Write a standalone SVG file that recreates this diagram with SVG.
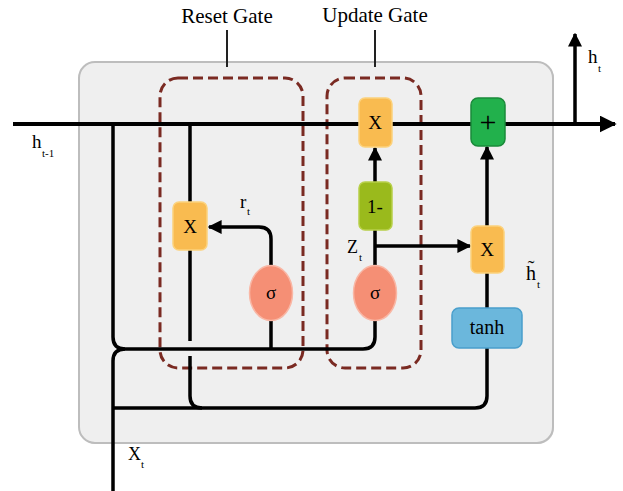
<svg xmlns="http://www.w3.org/2000/svg" width="623" height="491" viewBox="0 0 623 491">
<defs>
<style>
text{font-family:"Liberation Serif","Times New Roman",serif;fill:#000}
.lbl{font-size:21px}
.sym{font-family:"Liberation Serif","Times New Roman",serif;font-size:19px;text-anchor:middle}
.sub{font-size:11px}
.wire{fill:none;stroke:#000;stroke-width:3.5}
.main{fill:none;stroke:#000;stroke-width:4}
.tag{fill:none;stroke:#222;stroke-width:2}
.gate{fill:none;stroke:#7a2a22;stroke-width:3;stroke-dasharray:10 5}
.mul{fill:#f9bb50;stroke:#fcd27c;stroke-width:1.5}
.sig{fill:#f58f75;stroke:#f9b7a5;stroke-width:1.5}
.one{fill:#9aba1c;stroke:#b8d04a;stroke-width:1.5}
.add{fill:#22b14c;stroke:#1a8a3a;stroke-width:1.5}
.tanh{fill:#6bb7dc;stroke:#4a9fcc;stroke-width:1.5}
</style>
<marker id="arr" viewBox="0 0 10 10" refX="9" refY="5" markerWidth="14" markerHeight="14" markerUnits="userSpaceOnUse" orient="auto">
<path d="M0,0 L10,5 L0,10 z" fill="#000"/>
</marker>
<marker id="arrL" viewBox="0 0 10 10" refX="9" refY="5" markerWidth="17" markerHeight="17" markerUnits="userSpaceOnUse" orient="auto">
<path d="M0,0 L10,5 L0,10 z" fill="#000"/>
</marker>
</defs>

<g id="cell">
<rect x="80" y="63" width="474" height="381" rx="16" fill="#d8d8d8"/>
<rect x="79" y="62" width="474" height="381" rx="16" fill="#efefef" stroke="#bdbdbd" stroke-width="2"/>
</g>

<g id="reset-gate">
<rect class="gate" x="160" y="78" width="143" height="290" rx="18"/>
<line class="tag" x1="227" y1="30" x2="227" y2="67"/>
<text class="lbl" x="227" y="23" text-anchor="middle">Reset Gate</text>
</g>

<g id="update-gate">
<rect class="gate" x="327" y="78" width="94" height="290" rx="18"/>
<line class="tag" x1="375" y1="30" x2="375" y2="67"/>
<text class="lbl" x="375" y="22" text-anchor="middle">Update Gate</text>
</g>

<g id="connectors">
<path class="main" d="M13,124 H615" marker-end="url(#arrL)"/>
<path class="wire" d="M575,124 V34" marker-end="url(#arr)"/>
<path class="wire" d="M113,124 V337 Q113,349 125,349"/>
<path class="wire" d="M113,491 V361 Q113,349 125,349 H363 Q375,349 375,337 V320"/>
<path class="wire" d="M271,349 V320"/>
<path class="wire" d="M190,124 V202"/>
<path class="wire" d="M190,250 V341"/>
<path class="wire" d="M190,356 V396 Q190,408 202,408"/>
<path class="wire" d="M113,408 H475 Q487,408 487,396 V348"/>
<path class="wire" d="M271,266 V239 Q271,227 259,227 H209" marker-end="url(#arr)"/>
<path class="wire" d="M375,266 V230"/>
<path class="wire" d="M375,182 V148" marker-end="url(#arr)"/>
<path class="wire" d="M375,246 H470" marker-end="url(#arr)"/>
<path class="wire" d="M487,308 V273"/>
<path class="wire" d="M487,226 V147" marker-end="url(#arr)"/>
</g>

<g id="mul-reset">
<rect class="mul" x="173" y="202" width="34" height="48" rx="6"/>
<text class="sym" x="190" y="233">X</text>
</g>
<g id="sigma-reset">
<ellipse class="sig" cx="271" cy="293" rx="21.5" ry="27.5"/>
<text class="sym" x="271" y="299">σ</text>
</g>
<g id="mul-update">
<rect class="mul" x="359" y="98" width="33" height="49" rx="6"/>
<text class="sym" x="375" y="129">X</text>
</g>
<g id="one-minus">
<rect class="one" x="359" y="182" width="33" height="48" rx="6"/>
<text class="sym" x="375" y="213">1-</text>
</g>
<g id="sigma-update">
<ellipse class="sig" cx="375" cy="293" rx="21.5" ry="27.5"/>
<text class="sym" x="375" y="299">σ</text>
</g>
<g id="add">
<rect class="add" x="471" y="98" width="34" height="48" rx="7"/>
<text x="488" y="132" font-size="30" text-anchor="middle">+</text>
</g>
<g id="mul-cand">
<rect class="mul" x="471" y="226" width="33" height="47" rx="6"/>
<text class="sym" x="487" y="256">X</text>
</g>
<g id="tanh">
<rect class="tanh" x="452" y="308" width="70" height="40" rx="7"/>
<text x="487" y="334" font-size="20" text-anchor="middle">tanh</text>
</g>

<g id="labels">
<text x="32" y="148" font-size="19">h</text><text class="sub" x="42" y="157">t-1</text>
<text x="588" y="63" font-size="19">h</text><text class="sub" x="598" y="72">t</text>
<text x="240" y="208" font-size="19">r</text><text class="sub" x="247" y="215">t</text>
<text x="347" y="253" font-size="18">Z</text><text class="sub" x="359" y="261">t</text>
<text x="526" y="280" font-size="20">h̃</text><text class="sub" x="537" y="288">t</text>
<text x="128" y="460" font-size="18">X</text><text class="sub" x="141" y="468">t</text>
</g>
</svg>
